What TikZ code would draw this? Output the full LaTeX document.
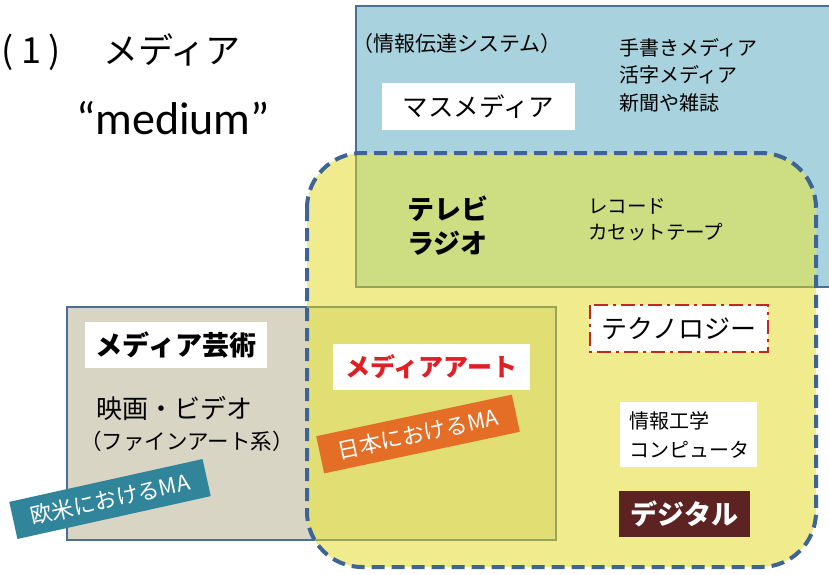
\documentclass[tikz,border=0pt]{standalone}
\usepackage{fontspec}
\setmainfont{Noto Sans CJK JP}
\newfontfamily\latinf{Carlito}
\definecolor{cblue}{RGB}{168,211,222}
\definecolor{cyellow}{RGB}{240,235,140}
\definecolor{cgreen}{RGB}{205,221,130}
\definecolor{cgray}{RGB}{217,213,196}
\definecolor{colive}{RGB}{225,222,115}
\definecolor{cdash}{RGB}{62,100,150}
\definecolor{cborder}{RGB}{74,110,148}
\definecolor{cinborder}{RGB}{150,165,90}
\definecolor{cteal}{RGB}{49,133,155}
\definecolor{corange}{RGB}{228,110,38}
\definecolor{cbrown}{RGB}{93,35,35}
\definecolor{cred}{RGB}{225,30,35}
\definecolor{ctechred}{RGB}{190,40,40}
\tikzset{
  whitebox/.style={fill=white, inner sep=0pt, outer sep=0pt},
  plain/.style={inner sep=0pt, outer sep=0pt},
  fs/.style={font=\fontsize{#1}{#1}\selectfont},
  fsb/.style={font=\bfseries\fontsize{#1}{#1}\selectfont},
  tilted/.style={text=white, inner sep=0pt, rotate=12.5},
}
\begin{document}
\begin{tikzpicture}[x=1pt,y=-1pt]
\useasboundingbox (0,0) rectangle (829,574);
\fill[white] (0,0) rectangle (829,574);
% mass media region
\fill[cblue] (356,6) rectangle (845,287);
\draw[cborder, line width=1.5pt] (356,6) rectangle (845,287);
% media art region
\fill[cgray] (67,307) rectangle (556,540);
\draw[cborder, line width=1.5pt] (67,307) rectangle (556,540);
% yellow region
\fill[cyellow, rounded corners=55pt] (307,153) rectangle (816,567);
\begin{scope}
  \clip[rounded corners=55pt] (307,153) rectangle (816,567);
  \fill[cgreen] (356,6) rectangle (845,287);
  \draw[cinborder, line width=1.5pt] (356,6) rectangle (845,287);
  \fill[colive] (67,307) rectangle (556,540);
  \draw[cinborder, line width=1.5pt] (67,307) rectangle (556,540);
\end{scope}
\draw[cdash, line width=4pt, dash pattern=on 13pt off 7pt, rounded corners=55pt] (307,153) rectangle (816,567);

% title
\node[plain, fs=36, anchor=base] (lp) at (8,63) {(};
\node[plain, fs=36, anchor=base] (one) at (31,63) {1};
\node[plain, fs=36, anchor=base] (rp) at (55,63) {)};
\node[plain, fs=35, anchor=west] (ttl) at (103,50) {メディア};
\node[plain, font=\latinf\fontsize{46}{46}\selectfont] (medium) at (173,118) {“medium”};

% mass media texts
\node[plain, fs=21, anchor=west] (info) at (352,44) {（情報伝達システム）};
\node[whitebox, fs=25.5, minimum width=193pt, minimum height=47pt, anchor=north west] (mass) at (382,83) {マスメディア};
\node[plain, anchor=north west, align=left, font=\fontsize{20}{27.5}\selectfont] (print) at (619,38) {手書きメディア\\活字メディア\\新聞や雑誌};

% green region texts
\node[plain, anchor=north west, align=left, font=\bfseries\fontsize{27}{34}\selectfont] (tv) at (407,196) {テレビ\\ラジオ};
\node[plain, anchor=north west, align=left, font=\fontsize{19.5}{26}\selectfont] (rec) at (588,198) {レコード\\カセットテープ};

% media art texts
\node[whitebox, fsb=27, minimum width=182pt, minimum height=46pt, anchor=north west] (gei) at (85,322) {メディア芸術};
\node[plain, fs=26, anchor=west] (eiga) at (96,408) {映画・ビデオ};
\node[plain, fs=21.5, anchor=west] (fine) at (80,441) {（ファインアート系）};
\node[tilted, fill=cteal, fs=22, minimum width=198pt, minimum height=38pt] (oubei) at (110,499) {欧米におけるMA};

% media art (Japan)
\node[whitebox, fsb=25, text=cred, minimum width=197pt, minimum height=46pt, anchor=north west] (ma) at (333,344) {メディアアート};
\node[tilted, fill=corange, fs=22, minimum width=200pt, minimum height=38pt, rotate=-0.5] (japan) at (418,434) {日本におけるMA};

% technology
\node[whitebox, fs=26, minimum width=178pt, minimum height=47pt, anchor=north west] (tech) at (590,305) {テクノロジー};
\draw[ctechred, line width=2.2pt, dash pattern=on 14pt off 5pt on 3pt off 5pt] (tech.north west) rectangle (tech.south east);
\node[whitebox, minimum width=137pt, minimum height=65pt, anchor=north west, align=left, font=\fontsize{20}{29}\selectfont, text width=119pt, inner xsep=9pt] (cs) at (620,402) {情報工学\\コンピュータ};
\node[fill=cbrown, fsb=27, text=white, minimum width=131pt, minimum height=46pt, anchor=north west, inner sep=0pt] (dig) at (619,491) {デジタル};
\end{tikzpicture}
\end{document}
